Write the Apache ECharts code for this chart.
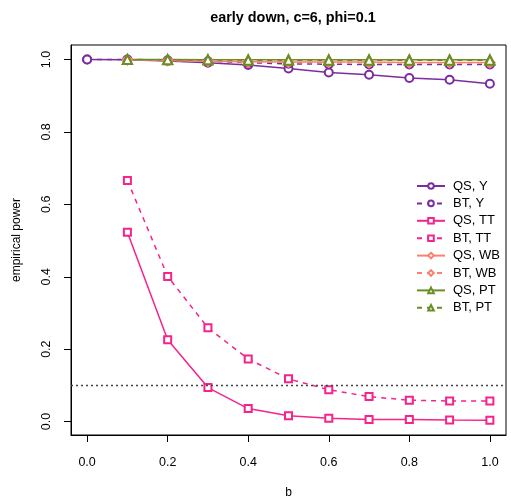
<!DOCTYPE html>
<html>
<head>
<meta charset="utf-8">
<script src="https://cdn.jsdelivr.net/npm/echarts@6/dist/echarts.min.js"></script>
<style>html,body{margin:0;padding:0;background:#fff}#c{width:511px;height:500px}</style>
</head>
<body>
<div id="c"></div>
<script>
var titleText = 'early down, c=6, phi=0.1';
var xTicks = [0, 0.2, 0.4, 0.6, 0.8, 1.0];
var yTicks = [0, 0.2, 0.4, 0.6, 0.8, 1.0];
var bAll = [0, 0.1, 0.2, 0.3, 0.4, 0.5, 0.6, 0.7, 0.8, 0.9, 1.0];
var b1 = [0.1, 0.2, 0.3, 0.4, 0.5, 0.6, 0.7, 0.8, 0.9, 1.0];
var qsY  = [1.0, 0.999, 0.996, 0.991, 0.985, 0.975, 0.964, 0.958, 0.949, 0.944, 0.933];
var btY  = [1.0, 1.0, 0.998, 0.995, 0.991, 0.988, 0.987, 0.986, 0.986, 0.986, 0.986];
var qsTT = [0.523, 0.226, 0.094, 0.036, 0.016, 0.009, 0.0055, 0.0055, 0.0046, 0.004];
var btTT = [0.666, 0.401, 0.259, 0.173, 0.118, 0.088, 0.069, 0.059, 0.057, 0.057];
var qsWB = [0.999, 0.997, 0.995, 0.994, 0.993, 0.993, 0.993, 0.992, 0.992, 0.992];
var btWB = [0.999, 0.997, 0.995, 0.993, 0.992, 0.992, 0.991, 0.991, 0.991, 0.991];
var qsPT = [1.0, 1.0, 0.999, 0.999, 0.999, 0.999, 0.999, 0.999, 0.999, 0.999];
var btPT = [1.0, 0.999, 0.999, 0.998, 0.998, 0.998, 0.998, 0.998, 0.998, 0.998];
var refLevel = 0.1;

var PURPLE = '#7B2D9E', PINK = '#F5238C', SALMON = '#FA8072', GREEN = '#6B8E23';
function pairs(xs, ys) { return xs.map(function (x, i) { return [x, ys[i]]; }); }
function ser(name, xs, ys, color, dashed, symbol, size) {
  return {
    name: name, type: 'line', data: pairs(xs, ys),
    symbol: symbol, symbolSize: size, showSymbol: true,
    lineStyle: { color: color, width: 1.5, type: dashed ? [5, 5] : 'solid' },
    itemStyle: { color: color, borderColor: color, borderWidth: 1.6 },
    emphasis: { disabled: true }, animation: false
  };
}
var series = [
  ser('QS, Y', bAll, qsY, PURPLE, false, 'emptyCircle', 8),
  ser('BT, Y', bAll, btY, PURPLE, true, 'emptyCircle', 8),
  ser('QS, TT', b1, qsTT, PINK, false, 'emptyRect', 7),
  ser('BT, TT', b1, btTT, PINK, true, 'emptyRect', 7),
  ser('QS, WB', b1, qsWB, SALMON, false, 'emptyDiamond', 9),
  ser('BT, WB', b1, btWB, SALMON, true, 'emptyDiamond', 9),
  ser('QS, PT', b1, qsPT, GREEN, false, 'emptyTriangle', 9),
  ser('BT, PT', b1, btPT, GREEN, true, 'emptyTriangle', 9)
];
series[0].markLine = {
  silent: true, symbol: 'none', label: { show: false },
  lineStyle: { color: '#444', width: 1.3, type: [2, 3] },
  data: [{ yAxis: refLevel }]
};
var font = 'Liberation Sans, Arial, sans-serif';
var chart = echarts.init(document.getElementById('c'), null, { renderer: 'canvas' });
chart.setOption({
  animation: false,
  backgroundColor: '#fff',
  title: { text: titleText, left: 288, top: 6, textAlign: 'center',
    textStyle: { fontFamily: font, fontSize: 14.4, fontWeight: 'bold', color: '#000' } },
  grid: { left: 71, right: 5, top: 45, bottom: 65, show: true, borderColor: '#000', borderWidth: 1,
    backgroundColor: 'transparent', outerBoundsMode: 'none', containLabel: false },
  legend: {
    orient: 'vertical', left: 411, top: 174, itemWidth: 28, itemHeight: 7, itemGap: 3.4,
    textStyle: { fontFamily: font, fontSize: 13, color: '#000', lineHeight: 14, padding: [0, 0, 0, 3] },
    data: series.map(function (s) { return s.name; })
  },
  xAxis: {
    type: 'value', min: -0.04, max: 1.04,
    name: 'b', nameLocation: 'middle', nameGap: 52,
    nameTextStyle: { fontFamily: font, fontSize: 12, color: '#000' },
    axisLine: { show: true, onZero: false, lineStyle: { color: '#000' } },
    axisTick: { show: true, length: 7, customValues: xTicks, lineStyle: { color: '#000' } },
    axisLabel: { customValues: xTicks, margin: 21, fontFamily: font, fontSize: 12.5, color: '#000',
      formatter: function (v) { return v.toFixed(1); } },
    splitLine: { show: false }
  },
  yAxis: {
    type: 'value', min: -0.037, max: 1.04,
    name: 'empirical power', nameLocation: 'middle', nameGap: 48,
    nameTextStyle: { fontFamily: font, fontSize: 12, color: '#000' },
    axisLine: { show: true, onZero: false, lineStyle: { color: '#000' } },
    axisTick: { show: true, length: 7, customValues: yTicks, lineStyle: { color: '#000' } },
    axisLabel: { customValues: yTicks, margin: 18, rotate: 90, fontFamily: font, fontSize: 12.5, color: '#000',
      formatter: function (v) { return v.toFixed(1); } },
    splitLine: { show: false }
  },
  series: series
});
</script>
</body>
</html>
